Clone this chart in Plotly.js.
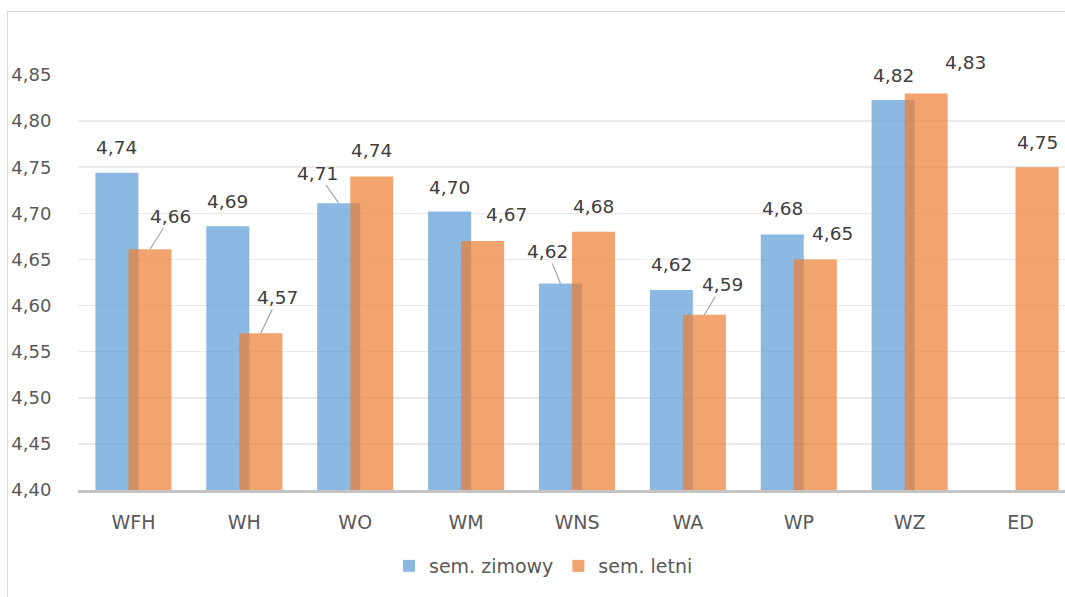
<!DOCTYPE html>
<html>
<head>
<meta charset="utf-8">
<script src="https://cdn.plot.ly/plotly-3.0.1.min.js"></script>
<style>
  html, body { margin: 0; padding: 0; background: #ffffff; overflow: hidden; width: 1065px; height: 597px; }
  #chart { position: absolute; left: 0; top: 0; }
  #frame { position: absolute; left: 7px; top: 11px; width: 1200px; height: 700px;
           border-left: 1.5px solid #d9d9d9; border-top: 1.5px solid #d9d9d9; pointer-events: none; }
</style>
</head>
<body>
<div id="chart"></div>
<div id="frame"></div>
<script>
// ---- data ----
const categories = ["WFH", "WH", "WO", "WM", "WNS", "WA", "WP", "WZ", "ED"];
const zimowy = [4.744, 4.686, 4.711, 4.702, 4.624, 4.617, 4.677, 4.823, null];
const letni  = [4.661, 4.570, 4.740, 4.670, 4.680, 4.590, 4.650, 4.830, 4.750];
const seriesNames = ["sem. zimowy", "sem. letni"];
const yTicks = [4.40, 4.45, 4.50, 4.55, 4.60, 4.65, 4.70, 4.75, 4.80, 4.85];

// ---- label placement (pixel offsets from bar top; line = leader line) ----
const zimowyLabelPos = [[0,-25,0],[0,-25,0],[-21,-30,1],[0,-24,0],[-13,-32,1],[0,-25,0],[0,-26,0],[0,-24,0],null];
const letniLabelPos  = [[21,-33,1],[17,-36,1],[0,-26,0],[24,-27,0],[0,-25,0],[18,-30,1],[17,-26,0],[39,-31,0],[0,-25,0]];

const BAR_W = 0.388;
const HALF_SEP = 0.149;           // half distance between the two bar centres (category units)
const PLOT_W = 998;
const SLOT_PX = PLOT_W / categories.length;

const fmt = v => v.toFixed(2).replace('.', ',');

const traces = [
  {
    type: 'bar', name: seriesNames[0], x: categories, y: zimowy,
    width: BAR_W, offset: -HALF_SEP - BAR_W / 2,
    marker: { color: 'rgba(91,155,213,0.7)' },
    hoverinfo: 'skip'
  },
  {
    type: 'bar', name: seriesNames[1], x: categories, y: letni,
    width: BAR_W, offset: HALF_SEP - BAR_W / 2,
    marker: { color: 'rgba(237,125,49,0.7)' },
    hoverinfo: 'skip'
  }
];

const annotations = [];
function addLabels(vals, pos, sign) {
  vals.forEach((v, i) => {
    if (v === null || !pos[i]) return;
    const [dx, dy, line] = pos[i];
    annotations.push({
      x: categories[i], y: v, xref: 'x', yref: 'y',
      xshift: sign * HALF_SEP * SLOT_PX,
      text: fmt(v),
      showarrow: true, arrowhead: 0, arrowwidth: 1.2,
      arrowcolor: line ? '#a6a6a6' : 'rgba(0,0,0,0)',
      ax: dx, ay: dy, standoff: 0,
      font: { family: 'DejaVu Sans', size: 18.5, color: '#404040' }
    });
  });
}
addLabels(zimowy, zimowyLabelPos, -1);
addLabels(letni, letniLabelPos, 1);

const layout = {
  width: 1090, height: 597,
  margin: { l: 78, r: 14, t: 75, b: 107 },
  paper_bgcolor: '#ffffff', plot_bgcolor: '#ffffff',
  barmode: 'overlay',
  separators: ', ',
  font: { family: 'DejaVu Sans', size: 18, color: '#595959' },
  xaxis: {
    type: 'category', showgrid: false, zeroline: false,
    showline: true, linecolor: '#c4c4c4', linewidth: 2.5,
    ticks: 'outside', ticklen: 14, tickcolor: 'rgba(0,0,0,0)',
    tickfont: { family: 'DejaVu Sans', size: 19, color: '#595959' },
    fixedrange: true
  },
  yaxis: {
    range: [4.40, 4.85], tickvals: yTicks, ticktext: yTicks.map(fmt),
    showgrid: true, gridcolor: '#e9e9e9', gridwidth: 1.5,
    zeroline: false, showline: false,
    ticks: 'outside', ticklen: 22, tickcolor: 'rgba(0,0,0,0)',
    tickfont: { family: 'DejaVu Sans', size: 18, color: '#595959' },
    fixedrange: true
  },
  showlegend: true,
  legend: {
    orientation: 'h', x: (389 - 78) / PLOT_W, xanchor: 'left',
    y: -(566 - 490) / 415, yanchor: 'middle',
    font: { family: 'DejaVu Sans', size: 19, color: '#595959' },
    itemclick: false, itemdoubleclick: false
  },
  annotations: annotations
};

Plotly.newPlot('chart', traces, layout, { displayModeBar: false, staticPlot: true });
</script>
</body>
</html>
